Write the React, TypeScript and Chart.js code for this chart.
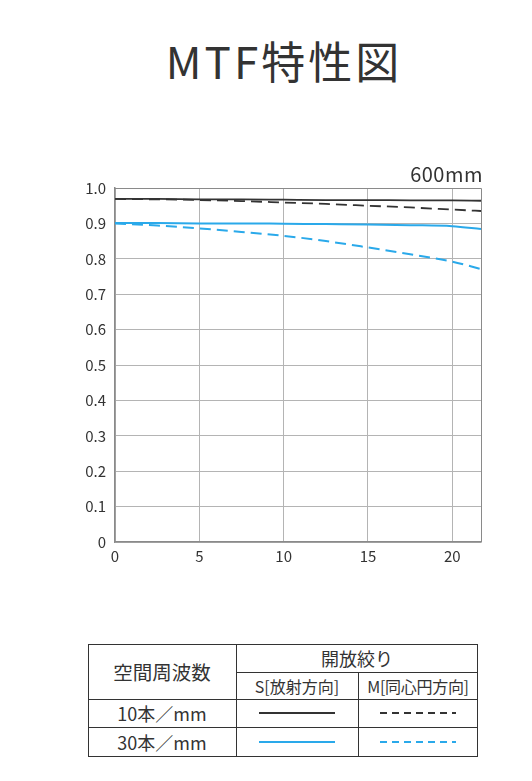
import React, { useEffect, useRef } from "react";
import { Chart, registerables } from "chart.js";
Chart.register(...registerables);

const imageHeight = [0, 2.5, 5, 7.5, 10, 12.5, 15, 17.5, 20, 21.7];
const s10 = [0.969, 0.969, 0.968, 0.968, 0.967, 0.966, 0.966, 0.965, 0.965, 0.964];
const m10 = [0.969, 0.968, 0.966, 0.963, 0.959, 0.955, 0.950, 0.945, 0.939, 0.935];
const s30 = [0.901, 0.901, 0.900, 0.900, 0.899, 0.898, 0.897, 0.895, 0.892, 0.884];
const m30 = [0.900, 0.894, 0.886, 0.876, 0.865, 0.850, 0.832, 0.813, 0.792, 0.771];
const xTicks = [0, 5, 10, 15, 20];
const yTicks = [0, 0.1, 0.2, 0.3, 0.4, 0.5, 0.6, 0.7, 0.8, 0.9, 1.0];

const BLACK = "#333333";
const BLUE = "#2aa9ea";
const FONT = "'Noto Sans CJK JP', 'Noto Sans', sans-serif";

const frame = {
  id: "frame",
  afterDatasetsDraw(chart: any) {
    const { ctx, chartArea } = chart;
    ctx.save();
    ctx.strokeStyle = "#8a8a8a";
    ctx.lineWidth = 1;
    ctx.beginPath();
    ctx.moveTo(chartArea.left, chartArea.top + 0.5);
    ctx.lineTo(chartArea.right + 0.5, chartArea.top + 0.5);
    ctx.lineTo(chartArea.right + 0.5, chartArea.bottom);
    ctx.stroke();
    ctx.restore();
  },
};

export default function App() {
  const ref = useRef<HTMLCanvasElement>(null);
  useEffect(() => {
    const pts = (ys: number[]) => imageHeight.map((x, i) => ({ x, y: ys[i] }));
    const chart = new Chart(ref.current!, {
      type: "line",
      data: {
        datasets: [
          { data: pts(s10), borderColor: BLACK, borderWidth: 1.8 },
          { data: pts(m10), borderColor: BLACK, borderWidth: 1.8, borderDash: [11, 6] },
          { data: pts(s30), borderColor: BLUE, borderWidth: 2 },
          { data: pts(m30), borderColor: BLUE, borderWidth: 2, borderDash: [11, 6] },
        ].map((d) => ({ ...d, pointRadius: 0, cubicInterpolationMode: "monotone" as const, fill: false })),
      },
      plugins: [frame],
      options: {
        animation: false,
        responsive: false,
        maintainAspectRatio: false,
        layout: { padding: { left: 0, right: 51, top: 188, bottom: 0 } },
        plugins: { legend: { display: false }, tooltip: { enabled: false } },
        scales: {
          x: {
            type: "linear",
            min: 0,
            max: imageHeight[imageHeight.length - 1],
            afterBuildTicks: (s: any) => { s.ticks = xTicks.map((v) => ({ value: v })); },
            afterFit: (s: any) => { s.height = 38; },
            grid: { color: "#b4b4b4", lineWidth: 1, drawTicks: false },
            border: { color: "#8a8a8a", width: 1.5 },
            ticks: { color: BLACK, font: { family: FONT, size: 15 }, padding: 5, maxRotation: 0 },
          },
          y: {
            type: "linear",
            min: 0,
            max: 1,
            afterBuildTicks: (s: any) => { s.ticks = yTicks.map((v) => ({ value: v })); },
            afterFit: (s: any) => { s.width = 115; },
            grid: { color: "#b4b4b4", lineWidth: 1, drawTicks: false },
            border: { color: "#8a8a8a", width: 1.5 },
            ticks: {
              color: BLACK,
              font: { family: FONT, size: 15 },
              padding: 9,
              callback: (v: any) => (v === 0 ? "0" : Number(v).toFixed(1)),
            },
          },
        },
      },
    });
    return () => chart.destroy();
  }, []);

  const cell: React.CSSProperties = { position: "absolute", display: "flex", alignItems: "center", justifyContent: "center", color: BLACK, fontFamily: FONT, whiteSpace: "nowrap" };
  const line = (color: string, dash?: string) => (
    <svg width="76" height="6" style={{ display: "block" }}>
      <line x1="0" y1="3" x2="76" y2="3" stroke={color} strokeWidth="2" strokeDasharray={dash} />
    </svg>
  );

  return (
    <div style={{ position: "absolute", left: 0, top: 0, width: 532, height: 781, background: "#fff" }}>
      <div style={{ ...cell, left: 0, width: 568, top: 30, height: 60, fontSize: 44, letterSpacing: 3 }}>MTF特性図</div>
      <canvas ref={ref} width={532} height={580} style={{ position: "absolute", left: 0, top: 0, width: 532, height: 580 }} />
      <div style={{ ...cell, left: 360, width: 123, top: 159, height: 28, fontSize: 20, letterSpacing: 0.5, justifyContent: "flex-end" }}>600mm</div>
      <div style={{ position: "absolute", left: 88, top: 644, width: 390, height: 113, border: `1.5px solid ${BLACK}`, boxSizing: "border-box" }} />
      <div style={{ position: "absolute", left: 236, top: 644, width: 0, height: 113, borderLeft: `1.2px solid ${BLACK}` }} />
      <div style={{ position: "absolute", left: 358, top: 672, width: 0, height: 85, borderLeft: `1.2px solid ${BLACK}` }} />
      <div style={{ position: "absolute", left: 236, top: 672, width: 242, height: 0, borderTop: `1.2px solid ${BLACK}` }} />
      <div style={{ position: "absolute", left: 88, top: 699, width: 390, height: 0, borderTop: `1.2px solid ${BLACK}` }} />
      <div style={{ position: "absolute", left: 88, top: 727, width: 390, height: 0, borderTop: `1.2px solid ${BLACK}` }} />
      <div style={{ ...cell, left: 88, width: 148, top: 644, height: 55, fontSize: 19.5 }}>空間周波数</div>
      <div style={{ ...cell, left: 236, width: 242, top: 644, height: 28, fontSize: 18 }}>開放絞り</div>
      <div style={{ ...cell, left: 236, width: 122, top: 672, height: 27, fontSize: 16 }}>S[放射方向]</div>
      <div style={{ ...cell, left: 358, width: 120, top: 672, height: 27, fontSize: 16, letterSpacing: -0.3 }}>M[同心円方向]</div>
      <div style={{ ...cell, left: 88, width: 148, top: 699, height: 28, fontSize: 18 }}>10本／mm</div>
      <div style={{ ...cell, left: 88, width: 148, top: 727, height: 29, fontSize: 18 }}>30本／mm</div>
      <div style={{ ...cell, left: 236, width: 122, top: 699, height: 28 }}>{line(BLACK)}</div>
      <div style={{ ...cell, left: 358, width: 120, top: 699, height: 28 }}>{line(BLACK, "7 5")}</div>
      <div style={{ ...cell, left: 236, width: 122, top: 727, height: 29 }}>{line(BLUE)}</div>
      <div style={{ ...cell, left: 358, width: 120, top: 727, height: 29 }}>{line(BLUE, "7 5")}</div>
    </div>
  );
}
